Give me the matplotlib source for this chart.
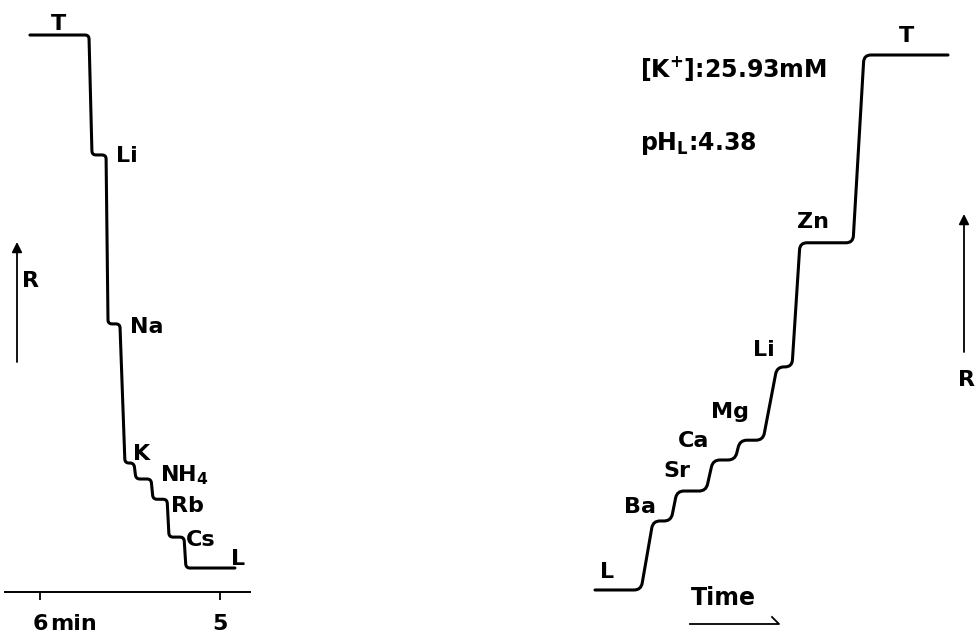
import numpy as np
import matplotlib.pyplot as plt
from matplotlib.path import Path
from matplotlib.patches import PathPatch
from matplotlib.lines import Line2D

plt.rcParams['font.family'] = ['DejaVu Sans']
plt.rcParams['font.weight'] = 'bold'
plt.rcParams['mathtext.fontset'] = 'custom'
plt.rcParams['mathtext.rm'] = 'DejaVu Sans:bold'
plt.rcParams['mathtext.it'] = 'DejaVu Sans:bold'
plt.rcParams['mathtext.bf'] = 'DejaVu Sans:bold'

# Left run: alkali cations, R (arb. units) vs time (min)
left_ions = ["T", "Li", "Na", "K", r"NH$_\mathrm{4}$", "Rb", "Cs", "L"]
left_levels = [100.0, 77.5, 45.8, 19.7, 16.7, 12.9, 5.8, 0.0]
left_leave = [5.728, 5.633, 5.556, 5.478, 5.383, 5.294, 5.200]
left_arrive = [5.711, 5.622, 5.528, 5.467, 5.372, 5.283, 5.189]
left_span = (6.056, 4.917)
left_ticks = [6, 5]
left_ticklabels = ["6", "5"]

# Right run: alkaline earths etc., R (arb. units) vs time (arb. units)
right_ions = ["L", "Ba", "Sr", "Ca", "Mg", "Li", "Zn", "T"]
right_levels = [0.0, 12.9, 18.5, 24.3, 28.0, 41.7, 64.9, 100.0]
right_leave = [4.6, 7.6, 11.1, 14.0, 16.8, 19.7, 25.8]
right_arrive = [5.8, 8.2, 11.8, 14.5, 18.2, 20.5, 26.9]
right_span = (0.0, 35.3)

# label offsets from the start of each zone, in pixels
left_offsets = [(29, 5), (35, -7), (39, -9), (17, 3), (49, -2), (34, -13), (32, -9), (52, 3)]
right_offsets = [(12, 12), (-13, 8), (0, 14), (-19, 13), (-10, 22), (-13, 11), (13, 15), (43, 13)]

W, H = 979, 633


def px(x, y):
    return x / W, 1 - y / H


def step_vertices(levels, leave, arrive, span):
    xs, ys = [span[0]], [levels[0]]
    for i in range(len(leave)):
        xs += [leave[i], arrive[i]]
        ys += [levels[i], levels[i + 1]]
    xs.append(span[1])
    ys.append(levels[-1])
    return np.array(xs), np.array(ys)


def draw_trace(ax, xs, ys, radius):
    # round the corners of the step trace in screen space
    disp = ax.transData.transform(np.column_stack([xs, ys]))
    verts, codes = [disp[0]], [Path.MOVETO]
    for i in range(1, len(disp) - 1):
        v = disp[i]
        d1, d2 = disp[i - 1] - v, disp[i + 1] - v
        l1, l2 = np.hypot(*d1), np.hypot(*d2)
        r = min(radius, l1 / 2, l2 / 2)
        verts += [v + d1 / l1 * r, v, v + d2 / l2 * r]
        codes += [Path.LINETO, Path.CURVE3, Path.CURVE3]
    verts.append(disp[-1])
    codes.append(Path.LINETO)
    data = ax.transData.inverted().transform(np.array(verts))
    ax.add_patch(PathPatch(Path(data, codes), fill=False, lw=2.2,
                           edgecolor='black', capstyle='round', joinstyle='round'))


def label_zones(ax, names, levels, arrive, span, offsets, size=16):
    starts = [span[0]] + list(arrive)
    for name, x, y, off in zip(names, starts, levels, offsets):
        ax.annotate(name, xy=(x, y), xytext=off, textcoords='offset pixels',
                    ha='center', va='baseline', fontsize=size, fontweight='bold')


fig = plt.figure(figsize=(W / 100, H / 100), dpi=100)

# left panel
ax1 = fig.add_axes([5 / W, 41 / H, 245 / W, 592 / H])
ax1.set_xlim(6.1944, 4.8333)
ax1.set_ylim(-4.50, 106.57)
for s in ['left', 'right', 'top']:
    ax1.spines[s].set_visible(False)
ax1.spines['bottom'].set_linewidth(1.4)
ax1.set_yticks([])
ax1.set_xticks(left_ticks)
ax1.set_xticklabels(left_ticklabels)
ax1.tick_params(axis='x', direction='out', length=6, width=1.3, pad=10, labelsize=16)
ax1.patch.set_alpha(0)
fig.text(*px(50, 630), "min", ha='left', va='baseline', fontsize=16, fontweight='bold')

xs, ys = step_vertices(left_levels, left_leave, left_arrive, left_span)
draw_trace(ax1, xs, ys, 4)
label_zones(ax1, left_ions, left_levels, left_arrive, left_span, left_offsets)

# right panel
ax2 = fig.add_axes([560 / W, 0, 419 / W, 1])
ax2.set_xlim(-3.5, 38.4)
ax2.set_ylim(-8.04, 110.28)
ax2.axis('off')

xs, ys = step_vertices(right_levels, right_leave, right_arrive, right_span)
draw_trace(ax2, xs, ys, 7)
label_zones(ax2, right_ions, right_levels, right_arrive, right_span, right_offsets)

# R arrows
arrow = dict(arrowstyle='-|>', lw=1.3, color='black', mutation_scale=15,
             shrinkA=0, shrinkB=0)
fig.add_artist(plt.Annotation('', xy=px(17, 242), xytext=px(17, 362),
                              xycoords='figure fraction', arrowprops=arrow))
fig.text(*px(31, 287), "R", ha='center', va='baseline', fontsize=16, fontweight='bold')
fig.add_artist(plt.Annotation('', xy=px(964, 214), xytext=px(964, 352),
                              xycoords='figure fraction', arrowprops=arrow))
fig.text(*px(967, 386), "R", ha='center', va='baseline', fontsize=16, fontweight='bold')

# time direction
fig.text(*px(723, 605), "Time", ha='center', va='baseline', fontsize=17, fontweight='bold')
tx, ty = zip(px(690, 624), px(779, 624), px(772, 617))
fig.add_artist(Line2D(tx, ty, transform=fig.transFigure, color='black', lw=1.3))

# run conditions
fig.text(*px(640, 77), r"[K$^\mathrm{+}$]:25.93mM", ha='left', va='baseline',
         fontsize=17, fontweight='bold')
fig.text(*px(640, 150), r"pH$_\mathrm{L}$:4.38", ha='left', va='baseline',
         fontsize=17, fontweight='bold')

fig.savefig("out.png", dpi=100)
